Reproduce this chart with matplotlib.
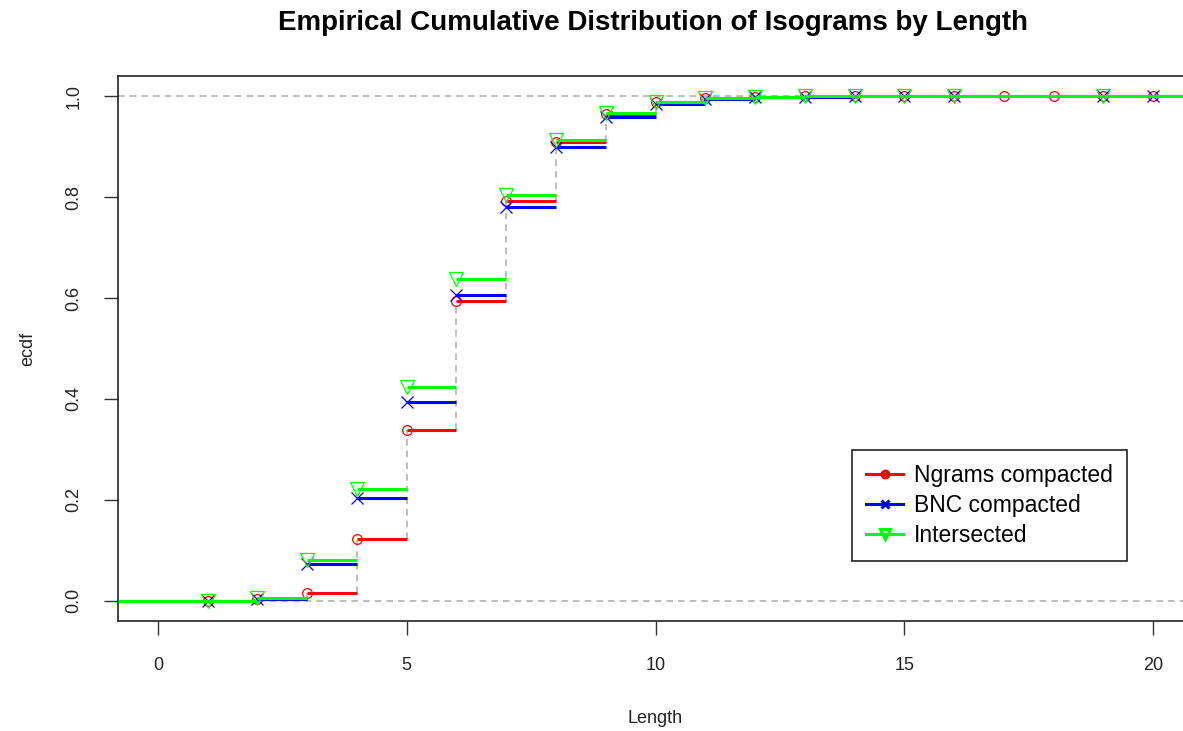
import matplotlib
matplotlib.use("Agg")
import matplotlib.pyplot as plt
from matplotlib.lines import Line2D
import numpy as np

plt.rcParams['font.family'] = ['Liberation Sans', 'DejaVu Sans']

# ---- data ----
ngrams_x = [1, 2, 3, 4, 5, 6, 7, 8, 9, 10, 11, 12, 13, 14, 15, 16, 17, 18, 19, 20]
ngrams_y = [0.0002, 0.003, 0.015, 0.122, 0.339, 0.595, 0.792, 0.910, 0.965, 0.988,
            0.996, 0.999, 0.9995, 0.9997, 0.9998, 0.9999, 0.99994, 0.99997, 0.99999, 1.0]
bnc_x = [1, 2, 3, 4, 5, 6, 7, 8, 9, 10, 11, 12, 13, 14, 15, 16, 19, 20]
bnc_y = [0.0004, 0.004, 0.072, 0.204, 0.393, 0.606, 0.781, 0.899, 0.959, 0.985,
         0.995, 0.998, 0.999, 0.9995, 0.9997, 0.9998, 0.9999, 1.0]
inter_x = [1, 2, 3, 4, 5, 6, 7, 8, 9, 10, 11, 12, 13, 14, 15, 16, 19]
inter_y = [0.0005, 0.006, 0.080, 0.221, 0.423, 0.637, 0.804, 0.913, 0.967, 0.989,
           0.997, 0.999, 0.9995, 0.9997, 0.9998, 0.9999, 1.0]
series_names = ["Ngrams compacted", "BNC compacted", "Intersected"]
x_ticks = [0, 5, 10, 15, 20]
y_ticks = [0.0, 0.2, 0.4, 0.6, 0.8, 1.0]

XMIN, XMAX = -0.8, 20.8
GRAY = '#B3B3B3'

fig = plt.figure(figsize=(11.83, 7.31), dpi=100)
ax = fig.add_axes([118 / 1183, 1 - 621 / 731, 1075 / 1183, 545 / 731])
ax.set_xlim(XMIN, XMAX)
ax.set_ylim(-0.04, 1.04)

# reference lines at 0 and 1
ax.axhline(0, color=GRAY, lw=1.2, ls=(0, (4, 3)), zorder=1)
ax.axhline(1, color=GRAY, lw=1.2, ls=(0, (4, 3)), zorder=1)

# vertical dashed connectors for the first series
prev = [0.0] + ngrams_y[:-1]
ax.vlines(ngrams_x, prev, ngrams_y, color=GRAY, lw=1.2, ls=(0, (4, 3)), zorder=1.5)

styles = [
    (ngrams_x, ngrams_y, '#FF0000', 'o', 7, 'none'),
    (bnc_x, bnc_y, '#0000FF', 'x', 8, None),
    (inter_x, inter_y, '#00FF00', 'v', 10, 'none'),
]
handles = []
for i, (xs, ys, col, mk, ms, mfc) in enumerate(styles):
    z = 2 + i
    xs_a = np.array(xs, dtype=float)
    ys_a = np.array(ys, dtype=float)
    right = np.append(xs_a[1:], XMAX)
    ax.hlines(ys_a, xs_a, right, color=col, lw=2.2, zorder=z)
    ax.hlines(0, XMIN, xs_a[0], color=col, lw=2.2, zorder=z)
    kw = dict(marker=mk, ms=ms, ls='none', color=col, mew=0.9, zorder=z + 0.5)
    if mfc is not None:
        kw['mfc'] = mfc
    ax.plot(xs_a, ys_a, **kw)
    handles.append(Line2D([0], [0], color=col, lw=2.2, marker=mk, ms=ms * 0.7,
                          mew=2.2, mfc='none' if mfc else col))

ax.set_xticks(x_ticks)
ax.set_xticklabels([str(v) for v in x_ticks])
ax.set_yticks(y_ticks)
ax.set_yticklabels([f"{v:.1f}" for v in y_ticks], rotation=90, va='center')
ax.tick_params(axis='both', direction='out', length=10, width=1, labelsize=13,
               color='#333333', labelcolor='#222222')
ax.tick_params(axis='x', pad=16)
ax.tick_params(axis='y', pad=15.5)
for s in ax.spines.values():
    s.set_color('#222222')
    s.set_linewidth(1.2)

ax.set_xlabel("Length", fontsize=13, color='#222222', labelpad=26)
ax.set_ylabel("ecdf", fontsize=13, color='#222222', labelpad=21)
fig.suptitle("Empirical Cumulative Distribution of Isograms by Length",
             fontsize=20, fontweight='bold', x=653 / 1183, y=1 - 23 / 731, va='center')

leg = ax.legend(handles, series_names, loc='upper left',
                bbox_to_anchor=((852 - 118) / 1075, (621 - 450) / 545),
                fontsize=16.5, frameon=True, fancybox=False, edgecolor='#222222',
                framealpha=1, handlelength=1.6, handletextpad=0.5, borderpad=0.62,
                labelspacing=0.3, borderaxespad=0)
leg.get_frame().set_linewidth(1.2)
leg.set_zorder(10)

fig.savefig("out.png", dpi=100)
